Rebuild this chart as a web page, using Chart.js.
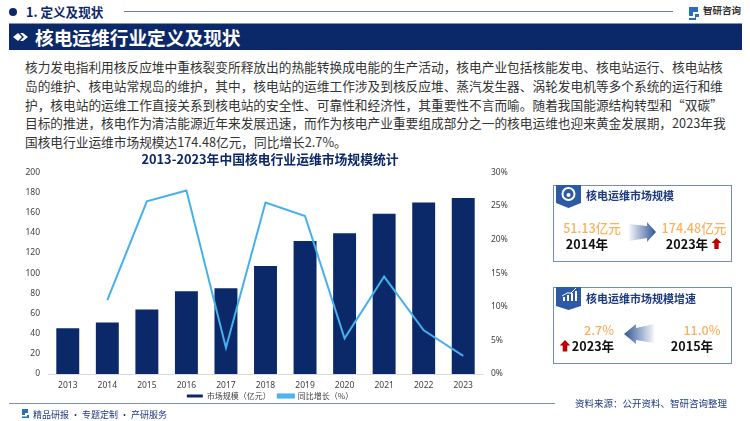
<!DOCTYPE html>
<html><head><meta charset="utf-8">
<script src="https://cdn.jsdelivr.net/npm/chart.js@4/dist/chart.umd.min.js"></script>
<style>
html,body{margin:0;padding:0;background:#fff;width:750px;height:421px;overflow:hidden;font-family:"Noto Sans CJK SC","Noto Sans",sans-serif}
.t{position:absolute;white-space:nowrap;line-height:1;transform:translateY(-50%)}
.c{transform:translate(-50%,-50%)}
.body{font-size:12.7px;color:#333;left:25px}
.card{position:absolute;left:553px;width:177px;height:75px;border:1px solid #6f8cc4;box-sizing:content-box}
.ct{font-size:11px;font-weight:700;color:#1d3a80;left:586px}
.o{font-size:12.6px;font-weight:500;color:#f9b25f}
.y{font-size:12.6px;font-weight:700;color:#111}
svg{position:absolute;overflow:visible}
#wrap{position:absolute;left:13px;top:150px;width:520px;height:260px}
</style></head><body>
<svg style="left:0;top:0" width="750" height="421">
<defs>
<linearGradient id="gr" x1="0" x2="1"><stop offset="0" stop-color="#2f5597" stop-opacity="0.05"/><stop offset="1" stop-color="#2f5597"/></linearGradient>
<linearGradient id="gl" x1="1" x2="0"><stop offset="0" stop-color="#2f5597" stop-opacity="0.05"/><stop offset="1" stop-color="#2f5597"/></linearGradient>
</defs>
<circle cx="13" cy="12" r="4" fill="#0b2869"/>
<line x1="124" y1="11.5" x2="673" y2="11.5" stroke="#6d7fb8" stroke-width="1"/>
<rect x="9" y="23.5" width="733" height="26.5" fill="#0b2869"/>
<path d="M13 37l5-4 4 4-4 4zM20 33h3l5 4-5 4h-3l4-4z" fill="#fff"/>
<path d="M689 7h9v5h-5v4h-4zM695 14h4v3h-3v3h-7v-2h6z" fill="#2a6fb5"/>
<line x1="9" y1="403.5" x2="555" y2="403.5" stroke="#7c8fc0" stroke-width="1.2"/>
<path d="M22 409h6v4h-3v2h-3zM27 415h2v3h-7v-1.500h5z" fill="#2a6fb5"/>
</svg>
<div class="t" style="left:26px;top:12px;font-size:12.6px;font-weight:700;color:#0b2869">1. 定义及现状</div>
<div class="t" style="left:703px;top:11px;font-size:9.500px;font-weight:700;color:#333">智研咨询</div>
<div class="t" style="left:35px;top:36.5px;font-size:18.7px;font-weight:700;color:#fff">核电运维行业定义及现状</div>
<div id="bodyText"></div>
<div id="wrap"><canvas id="c"></canvas></div>

<div class="card" style="top:185px"></div>
<div class="card" style="top:287px"></div>
<svg style="left:0;top:0" width="750" height="421">
<path d="M556 185h25v18l-12.500 5-12.500-5z" fill="#2c5aa5"/>
<circle cx="568.500" cy="194" r="6" fill="none" stroke="#fff" stroke-width="2"/>
<circle cx="568.500" cy="195" r="2" fill="#fff"/>
<path d="M556 287h25v19l-12.500 4-12.500-4z" fill="#2c5aa5"/>
<path d="M563 301v-4h2v4zM567 301v-6h2v6zM571 301v-8h2v8zM575 301v-10h2v10z" fill="#fff"/>
<path d="M562 296l5-3 4 0 5-5" fill="none" stroke="#fff" stroke-width="1"/>
<path d="M629 224l18 2 0-4 9 10-9 10 0-4-18 3z" fill="url(#gr)"/>
<path d="M654 324l-18 4 0-4-12 10 12 10 0-4 18 3z" fill="url(#gl)"/>
<path d="M716.500 238l5 5h-2.800v6h-4.400v-6h-2.800z" fill="#c00000"/>
<path d="M565 340l5.300 5.500h-3v6h-4.600v-6h-3z" fill="#c00000"/>
</svg>
<div class="t ct" style="top:195px">核电运维市场规模</div>
<div class="t ct" style="top:298px">核电运维市场规模增速</div>
<div class="t c o" style="left:592px;top:228px">51.13亿元</div>
<div class="t c y" style="left:587px;top:244px">2014年</div>
<div class="t c o" style="left:694px;top:228px">174.48亿元</div>
<div class="t c y" style="left:687px;top:244px">2023年</div>
<div class="t c o" style="left:599px;top:330px">2.7%</div>
<div class="t c y" style="left:593px;top:346px">2023年</div>
<div class="t c o" style="left:702px;top:330px">11.0%</div>
<div class="t c y" style="left:692px;top:346px">2015年</div>
<div class="t" style="left:33px;top:414px;font-size:9px;color:#1d3a80">精品研报 · 专题定制 · 产研服务</div>
<div class="t" style="left:575px;top:404px;font-size:9.500px;color:#1d3a80">资料来源：公开资料、智研咨询整理</div>
<script>
const categories=["2013","2014","2015","2016","2017","2018","2019","2020","2021","2022","2023"];
const marketSize=[45.5,51.13,64,82,85,107,132,139.5,159,170,174.48];
const growth=[null,11.0,25.7,27.3,3.9,25.5,23.5,5.3,14.5,6.5,2.7];
const bodyLines=[
"核力发电指利用核反应堆中重核裂变所释放出的热能转换成电能的生产活动，核电产业包括核能发电、核电站运行、核电站核",
"岛的维护、核电站常规岛的维护，其中，核电站的运维工作涉及到核反应堆、蒸汽发生器、涡轮发电机等多个系统的运行和维",
"护，核电站的运维工作直接关系到核电站的安全性、可靠性和经济性，其重要性不言而喻。随着我国能源结构转型和“双碳”",
"目标的推进，核电作为清洁能源近年来发展迅速，而作为核电产业重要组成部分之一的核电运维也迎来黄金发展期，2023年我",
"国核电行业运维市场规模达174.48亿元，同比增长2.7%。"];
const bodyTops=[67,86,104.5,123,142];
const bodyBox=document.getElementById('bodyText');
bodyLines.forEach((s,i)=>{const d=document.createElement('div');d.className='t body';d.style.top=bodyTops[i]+'px';d.textContent=s;bodyBox.appendChild(d);});
const tickFont={family:'"Noto Sans","Noto Sans CJK SC",sans-serif',size:8.5};
new Chart(document.getElementById('c'),{
 data:{labels:categories,datasets:[
  {type:'line',label:'同比增长（%）',data:growth,yAxisID:'y1',borderColor:'#45b0ee',backgroundColor:'#62bdf2',borderWidth:2,pointRadius:0,tension:0,order:1},
  {type:'bar',label:'市场规模（亿元）　',data:marketSize,yAxisID:'y',backgroundColor:'#0b2869',categoryPercentage:1,barPercentage:0.58,order:2}
 ]},
 options:{responsive:true,maintainAspectRatio:false,animation:false,
  layout:{padding:{left:7,right:13,top:1,bottom:0}},
  plugins:{
   title:{display:true,text:'2013-2023年中国核电行业运维市场规模统计',color:'#0b2869',font:{family:'"Noto Sans CJK SC"',size:12.8,weight:'bold'},padding:{top:0,bottom:6}},
   legend:{display:true,position:'bottom',reverse:true,labels:{boxWidth:16,boxHeight:3,padding:3,color:'#404040',font:{family:'"Noto Sans CJK SC"',size:8}}},
   tooltip:{enabled:false}},
  scales:{
   x:{grid:{display:false,drawTicks:false},border:{color:'#d9d9d9'},ticks:{color:'#404040',font:tickFont,padding:6,maxRotation:0},afterFit(s){s.height=15;}},
   y:{position:'left',min:0,max:200,grid:{display:false,drawTicks:false},border:{display:false},ticks:{stepSize:20,color:'#404040',font:tickFont,padding:8},afterFit(s){s.width=28;}},
   y1:{position:'right',min:0,max:30,grid:{display:false,drawTicks:false},border:{display:false},ticks:{stepSize:5,color:'#404040',font:tickFont,padding:8,callback:v=>v+'%'},afterFit(s){s.width=37;}}
  }}
});
</script>
</body></html>
